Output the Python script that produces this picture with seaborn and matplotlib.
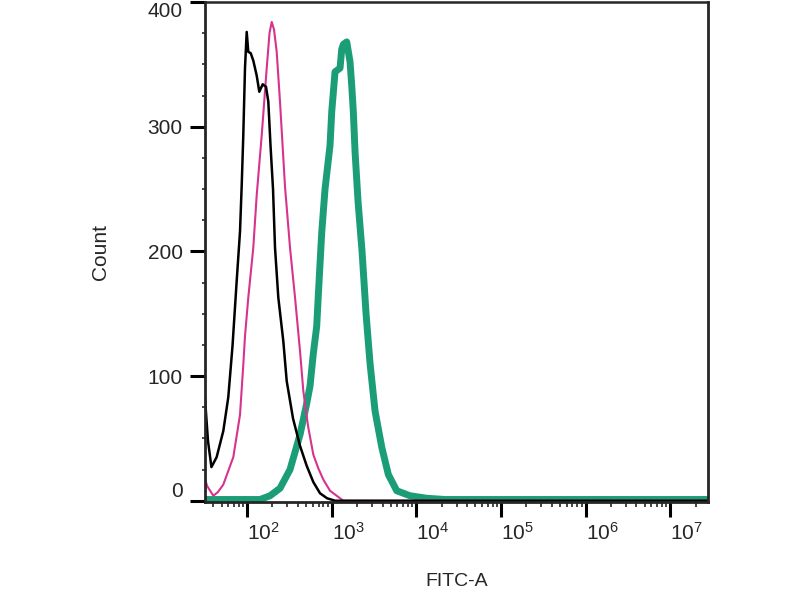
# ================================================
# FITC-A flow cytometry histogram (3 overlays)
# black = unstained, magenta = isotype, teal = stained
# ================================================

import numpy as np
import pandas as pd
import matplotlib
matplotlib.use('Agg')
import matplotlib.pyplot as plt
import seaborn as sns
from matplotlib.ticker import MultipleLocator, LogLocator, NullFormatter

# =====================
# DATA
# =====================
black_fitc  = [31.9, 34.6, 38.0, 43.8, 52.5, 60.1, 67.4, 75.5, 82.7, 86.6, 90.4, 94.7,
               99.2, 103.6, 110.6, 118.7, 130.2, 139.8, 153.3, 167.8, 178.6, 189.6,
               203.0, 214.3, 234.4, 268.6, 294.6, 349.8, 423.2, 507.7, 607.7, 729.3,
               882.3, 1100, 1e5, 2.8e7]
black_count = [82, 48, 27, 35, 56, 83, 124, 176, 216, 253, 293, 347,
               376, 360, 359, 353, 341, 328, 334, 332, 320, 285,
               250, 203, 163, 128, 96, 66, 44, 28, 15, 6,
               2, 0, 0, 0]

magenta_fitc  = [31.9, 33.7, 40.0, 45.4, 52.5, 68.9, 82.7, 90.4, 94.7, 103.6, 118.7,
                 130.2, 149.2, 171.0, 184.5, 195.9, 208.5, 224.4, 245.5, 281.3, 322.3,
                 369.4, 423.2, 463.0, 526.0, 607.7, 696.3, 797.8, 957.4, 1149, 1375,
                 1e5, 2.8e7]
magenta_count = [18, 12, 4, 7, 13, 35, 69, 109, 132, 163, 203,
                 245, 293, 347, 375, 384, 378, 360, 320, 252, 203,
                 163, 120, 88, 60, 37, 26, 17, 8, 4, 0,
                 0, 0]

teal_fitc  = [31.9, 142.5, 187.0, 245.5, 322.3, 423.2, 507.7, 555.5, 607.7, 666.6,
              696.3, 763.8, 835.6, 957.4, 1003, 1097, 1257, 1316, 1375, 1508,
              1650, 1728, 1805, 1891, 2052, 2288, 2551, 2845, 3258, 3910,
              4680, 5884, 8449, 13310, 21890, 1e5, 1e6, 2.8e7]
teal_count = [1, 1, 4, 10, 25, 53, 78, 92, 118, 140,
              165, 215, 250, 285, 312, 344, 347, 362, 366, 368,
              352, 333, 312, 280, 240, 200, 150, 110, 72, 43,
              21, 8, 4, 2, 1, 1, 1, 1]

x_ticks  = [1e2, 1e3, 1e4, 1e5, 1e6, 1e7]
x_labels = [r'$10^{2}$', r'$10^{3}$', r'$10^{4}$', r'$10^{5}$', r'$10^{6}$', r'$10^{7}$']
y_ticks  = [0, 100, 200, 300, 400]

df = pd.concat([
    pd.DataFrame({'FITC-A': black_fitc,   'Count': black_count,   'grup': 'black'}),
    pd.DataFrame({'FITC-A': magenta_fitc, 'Count': magenta_count, 'grup': 'magenta'}),
    pd.DataFrame({'FITC-A': teal_fitc,    'Count': teal_count,    'grup': 'teal'}),
])

# =====================
# STYLE
# =====================
sns.set_style('ticks')
plt.rcParams['font.family'] = ['Liberation Sans', 'DejaVu Sans']
plt.rcParams['mathtext.fontset'] = 'custom'
plt.rcParams['mathtext.rm'] = 'Liberation Sans'
plt.rcParams['mathtext.it'] = 'Liberation Sans:italic'

fig = plt.figure(figsize=(8, 6), dpi=100)
ax = fig.add_axes([205/800, 1 - 502/600, 503/800, 500/600])

renkler = {'teal': '#1b9e77', 'magenta': '#d6338f', 'black': '#000000'}
kalinlik = {'teal': 5.0, 'magenta': 1.5, 'black': 1.8}
for grup in ['teal', 'magenta', 'black']:
    sns.lineplot(data=df[df['grup'] == grup], x='FITC-A', y='Count', ax=ax,
                 color=renkler[grup], linewidth=kalinlik[grup], sort=False,
                 estimator=None, legend=False)

ax.set_xscale('log')
ax.set_xlim(31.9, 2.8e7)
ax.set_ylim(-1, 400)

# x: log eksen, etiketler tik'in sağına yaslı
ax.set_xticks(x_ticks)
ax.set_xticklabels(x_labels)
ax.xaxis.set_minor_locator(LogLocator(base=10, subs=np.arange(2, 10), numticks=20))
ax.xaxis.set_minor_formatter(NullFormatter())
for lbl in ax.get_xticklabels():
    lbl.set_horizontalalignment('left')

# y: 400 etiketi kutunun içine kaysın
ax.set_yticks(y_ticks)
ax.set_yticklabels([str(v) for v in y_ticks])
ax.yaxis.set_minor_locator(MultipleLocator(25))
ylbls = ax.get_yticklabels()
ylbls[-1].set_verticalalignment('top')
ylbls[0].set_verticalalignment('bottom')

ax.tick_params(axis='both', which='major', length=11, width=2.2, labelsize=15, color='black')
ax.tick_params(axis='y', which='major', pad=5)
ax.tick_params(axis='x', which='major', pad=3)
ax.tick_params(axis='x', which='minor', length=3.5, width=1.2)
ax.tick_params(axis='y', which='minor', length=2.5, width=1.2)

for s in ['left', 'bottom', 'right']:
    ax.spines[s].set_linewidth(2)
ax.spines['top'].set_linewidth(1.8)

ax.set_xlabel('FITC-A', fontsize=14, labelpad=21)
ax.set_ylabel('Count', fontsize=15, labelpad=27)

plt.savefig('out.png', dpi=100)
plt.close()
print("out.png kaydedildi")
